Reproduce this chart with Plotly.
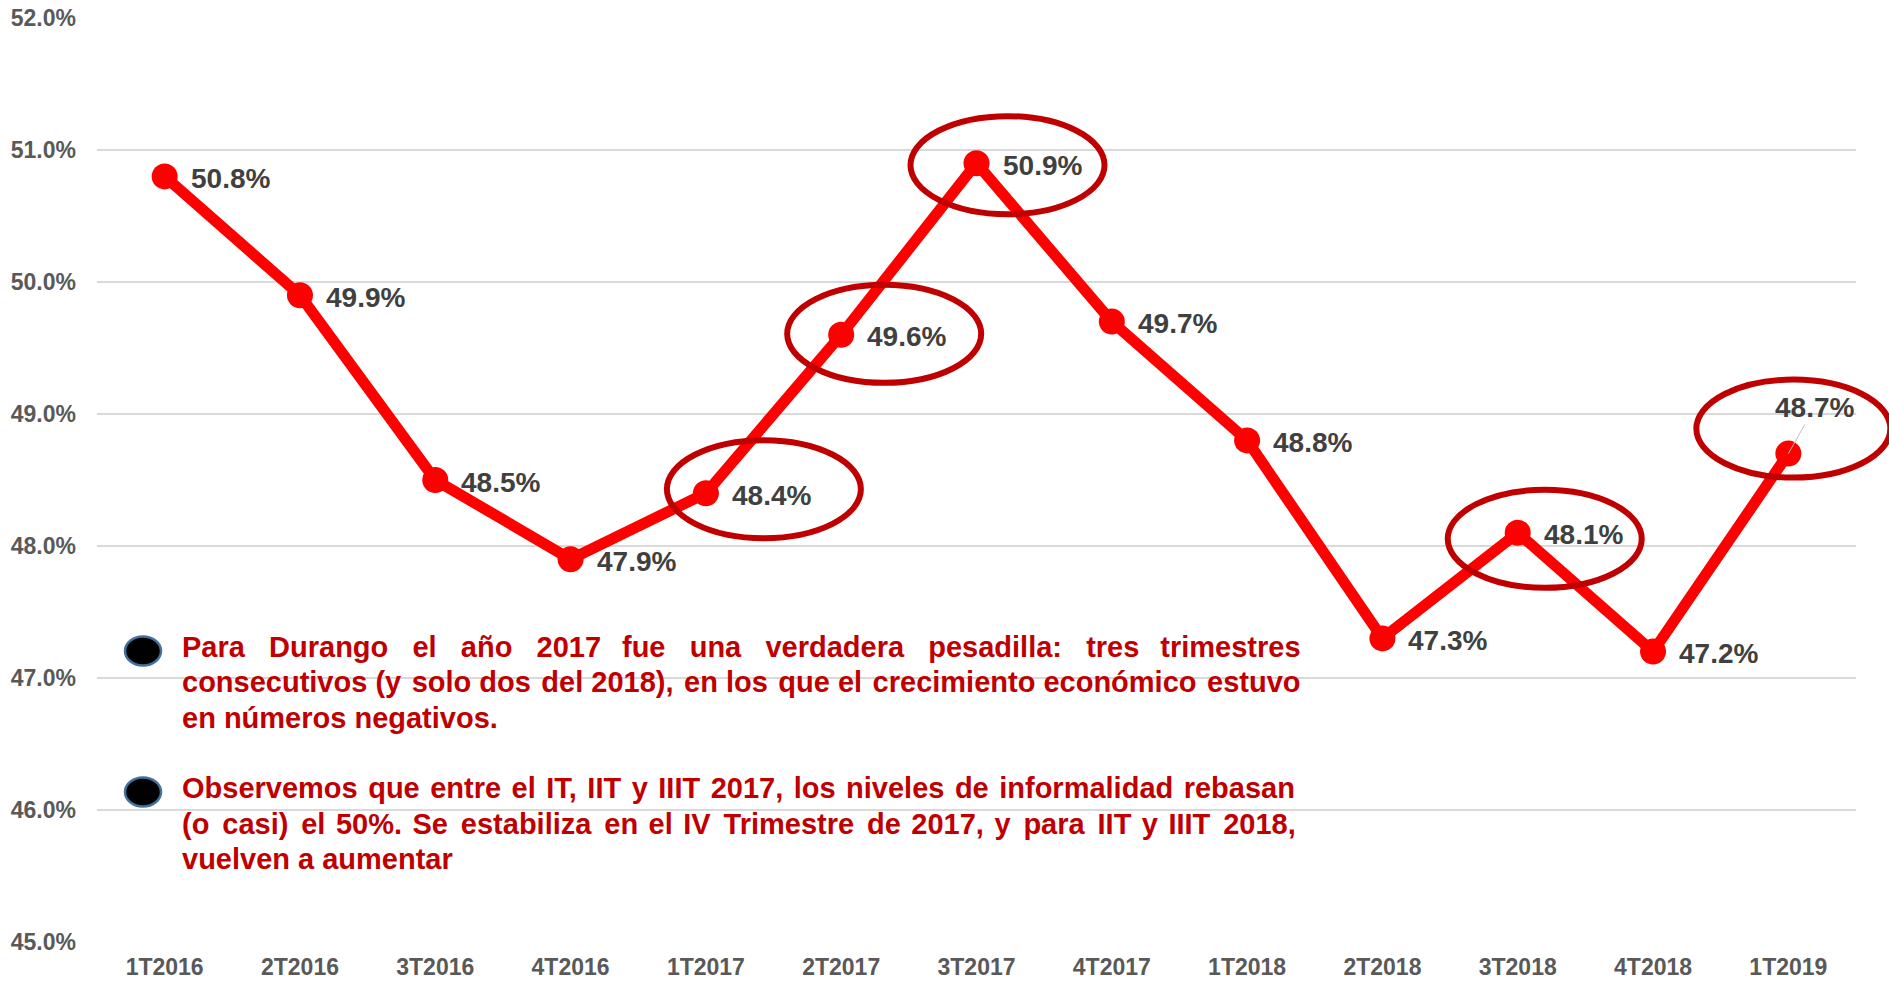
import plotly.graph_objects as go

trimestres = ["1T2016", "2T2016", "3T2016", "4T2016", "1T2017", "2T2017", "3T2017",
              "4T2017", "1T2018", "2T2018", "3T2018", "4T2018", "1T2019"]
informalidad = [50.8, 49.9, 48.5, 47.9, 48.4, 49.6, 50.9, 49.7, 48.8, 47.3, 48.1, 47.2, 48.7]

# trimestres resaltados con elipse: indice -> desplazamiento (px) del centro
resaltados = {4: (58, 4), 5: (43, 1), 6: (31, -2), 10: (27, -6), 12: (5, 25)}

notas = [
    ["Para Durango el año 2017 fue una verdadera pesadilla: tres trimestres",
     "consecutivos (y solo dos del 2018), en los que el crecimiento económico estuvo",
     "en números negativos."],
    ["Observemos que entre el IT, IIT y IIIT 2017, los niveles de informalidad rebasan",
     "(o casi) el 50%. Se estabiliza en el IV Trimestre de 2017, y para IIT y IIIT 2018,",
     "vuelven a aumentar"],
]
# espacio extra entre palabras para imitar el texto justificado (se alternan)
NB, HS, SS = "\u00a0", "\u200a", "\u2006"
A, B = " " + NB + NB, " " + NB + HS + HS
relleno = [[[A, A, A, A, B], [" ", " " + HS], [" "]],
           [[" " + HS], [" " + SS, " " + SS, " " + HS, " " + HS], [" "]]]

W, H = 1889, 982
PL, PR, PT, PB = 97, 1856, 18, 942   # area del grafico en pixeles
YMIN, YMAX = 45, 52
N = len(trimestres)


def px_x(px):
    return (px - PL) / (PR - PL)


def px_y(py):
    return (PB - py) / (PB - PT)


def justificar(linea, fills):
    palabras = linea.split(" ")
    out = palabras[0]
    for g, p in enumerate(palabras[1:]):
        out += fills[g % len(fills)] + p
    return out


fig = go.Figure(go.Scatter(
    x=trimestres, y=informalidad, mode="lines+markers",
    line=dict(color="#FF0000", width=11),
    marker=dict(color="#FF0000", size=26),
    hoverinfo="skip"))

etiqueta = dict(size=28, color="#404040", family="Liberation Sans, Arial", weight="bold")
anns = []
for i, (t, v) in enumerate(zip(trimestres, informalidad)):
    if i == N - 1:
        anns.append(dict(x=t, y=v, text=f"{v:.1f}%", showarrow=True, arrowhead=0,
                         arrowwidth=1, arrowcolor="#BFBFBF", ax=26, ay=-46, font=etiqueta))
    else:
        anns.append(dict(x=t, y=v, text=f"{v:.1f}%", showarrow=False, xanchor="left",
                         xshift=24, yshift=-2, font=etiqueta))

shapes = []
for i, (dx, dy) in resaltados.items():
    shapes.append(dict(type="circle", xref="paper", yref="paper",
                       xsizemode="pixel", ysizemode="pixel",
                       xanchor=(i + 0.5) / N, yanchor=(informalidad[i] - YMIN) / (YMAX - YMIN),
                       x0=dx - 97, x1=dx + 97, y0=dy - 49, y1=dy + 49,
                       line=dict(color="#C00000", width=6), layer="above"))

# caja blanca detras del texto
shapes.append(dict(type="rect", xref="paper", yref="paper",
                   x0=px_x(178), x1=px_x(1300), y0=px_y(876), y1=px_y(628),
                   fillcolor="white", line=dict(width=0), layer="between"))

line_y = [[647, 682, 718], [788, 824, 859]]
for k, parrafo in enumerate(notas):
    shapes.append(dict(type="circle", xref="paper", yref="paper",
                       xsizemode="pixel", ysizemode="pixel",
                       xanchor=px_x(143), yanchor=px_y(line_y[k][0] + 4),
                       x0=-18, x1=18, y0=-14.5, y1=14.5,
                       fillcolor="black", line=dict(color="#41719C", width=2.5), layer="above"))
    for j, linea in enumerate(parrafo):
        anns.append(dict(xref="paper", yref="paper", x=px_x(180), y=px_y(line_y[k][j]),
                         xanchor="left", yanchor="middle", showarrow=False,
                         text=justificar(linea, relleno[k][j]),
                         font=dict(size=29, color="#C00000", family="Liberation Sans, Arial",
                                   weight="bold")))

eje = dict(size=23, color="#595959", family="Liberation Sans, Arial", weight="bold")
fig.update_layout(
    width=W, height=H,
    margin=dict(l=PL, r=W - PR, t=PT, b=H - PB, autoexpand=False),
    plot_bgcolor="white", paper_bgcolor="white",
    showlegend=False,
    annotations=anns, shapes=shapes,
    xaxis=dict(type="category", range=[-0.5, N - 0.5], showgrid=False, zeroline=False,
               showline=False, ticks="", ticklabelstandoff=9, ticklabeloverflow="allow",
               tickfont=eje),
    yaxis=dict(range=[YMIN, YMAX], dtick=1, tickformat=".1f", ticksuffix="%",
               gridcolor="#D9D9D9", gridwidth=1.5, zeroline=False, showline=False,
               ticks="", ticklabelstandoff=20, ticklabeloverflow="allow", tickfont=eje),
)

# sin margen del body para que el grafico ocupe toda la ventana
fig.write_html("out.html", config={"displayModeBar": False},
               post_script="document.body.style.margin='0';")
